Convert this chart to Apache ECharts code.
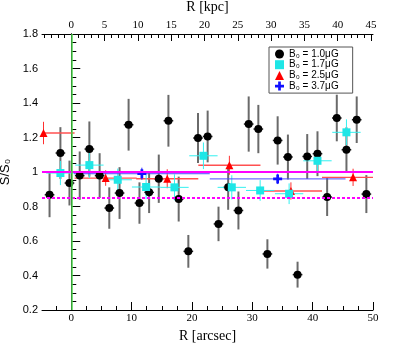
<!DOCTYPE html>
<html>
<head>
<meta charset="utf-8">
<script src="https://cdn.jsdelivr.net/npm/echarts@6/dist/echarts.min.js"></script>
<style>
  html, body { margin: 0; padding: 0; background: #fff; }
  #chart { width: 415px; height: 345px; }
</style>
</head>
<body>
<div id="chart"></div>
<script>
// B0 = 1.0 uG  (x in arcsec, y = S/S0, yErr)
const r10 = [-3.6, -1.8, -0.3, 1.4, 3.0, 4.7, 6.3, 8.0, 9.5, 11.3, 12.9, 14.5, 16.1, 17.8, 19.4, 21.0, 22.6,
  24.4, 26.0, 27.7, 29.4, 31.0, 32.5, 34.2, 35.9, 37.5, 39.1, 40.8, 42.4, 44.0, 45.6, 47.3, 48.9]
const s10 = [0.868, 1.11, 0.936, 0.979, 1.133, 0.979, 0.791, 0.878, 1.274, 0.82, 0.882, 0.961, 1.297, 0.843, 0.54, 1.197, 1.206,
  0.699, 0.911, 0.777, 1.278, 1.249, 0.525, 1.183, 1.087, 0.405, 1.09, 1.106, 0.855, 1.313, 1.129, 1.303, 0.872]
const e10 = [0.13, 0.15, 0.13, 0.14, 0.16, 0.13, 0.12, 0.15, 0.15, 0.12, 0.12, 0.14, 0.15, 0.13, 0.095, 0.145, 0.15,
  0.1, 0.13, 0.11, 0.16, 0.14, 0.085, 0.14, 0.13, 0.075, 0.13, 0.13, 0.11, 0.135, 0.13, 0.135, 0.11]
const xe10 = 0.8

// B0 = 1.7 uG
const r17 = [-1.8, 3.0, 7.7, 12.4, 17.1, 21.9, 26.6, 31.3, 36.1, 40.8, 45.6]
const s17 = [0.994, 1.04, 0.955, 0.913, 0.911, 1.094, 0.911, 0.893, 0.874, 1.065, 1.23]
const e17 = [0.07, 0.075, 0.065, 0.07, 0.075, 0.077, 0.07, 0.06, 0.06, 0.06, 0.075]
const xe17 = 2.35

// B0 = 2.5 uG
const r25 = [-4.6, 5.7, 15.9, 26.2, 36.4, 46.7]
const s25 = [1.226, 0.965, 0.961, 1.039, 0.89, 0.969]
const e25 = [0.065, 0.045, 0.055, 0.055, 0.05, 0.05]
const xe25 = 5.15

// B0 = 3.7 uG
const r37 = [11.7, 34.2]
const s37 = [0.99, 0.96]
const e37 = [0.035, 0.03]
const xe37 = 11.25

const names = ['B₀ = 1.0μG', 'B₀ = 1.7μG', 'B₀ = 2.5μG', 'B₀ = 3.7μG']

// axes
const xMin = -4.85
const xMax = 50
const arcTicks = [0, 10, 20, 30, 40, 50]
const arcMinor = [-2.5, 2.5, 5, 7.5, 12.5, 15, 17.5, 22.5, 25, 27.5, 32.5, 35, 37.5, 42.5, 45, 47.5]
const kpcPerArcsec = 0.906
const kpcTicks = [0, 5, 10, 15, 20, 25, 30, 35, 40, 45]
const kpcMinor = []
for (let k = -4; k <= 45; k++) if (k % 5 !== 0) kpcMinor.push(k)

const refLevel = 1.0
const dashLevel = 0.85
const centerR = 0

function zip(xs, ys, xe, es) {
  return xs.map((x, i) => [x, ys[i], xe, es[i]])
}

function errBars(hColor, vColor, hWidth, vWidth) {
  return function (params, api) {
    const x = api.value(0), y = api.value(1), dx = api.value(2), dy = api.value(3)
    const cs = params.coordSys
    const left = cs.x, right = cs.x + cs.width
    const h1 = api.coord([x - dx, y]), h2 = api.coord([x + dx, y])
    const v1 = api.coord([x, y - dy]), v2 = api.coord([x, y + dy])
    return {
      type: 'group',
      children: [
        { type: 'line', shape: { x1: Math.max(h1[0], left), y1: h1[1], x2: Math.min(h2[0], right), y2: h2[1] },
          style: { stroke: hColor, lineWidth: hWidth } },
        { type: 'line', shape: { x1: v1[0], y1: v1[1], x2: v2[0], y2: v2[1] },
          style: { stroke: vColor, lineWidth: vWidth } }
      ]
    }
  }
}

const serif = 'Liberation Serif'
const sans = 'Liberation Sans'
const cross = 'path://M3.5,0H6.5V3.5H10V6.5H6.5V10H3.5V6.5H0V3.5H3.5Z'

const chart = echarts.init(document.getElementById('chart'), null, { renderer: 'canvas' })

chart.setOption({
  animation: false,
  grid: { left: 42, right: 42, top: 34, bottom: 35, containLabel: false, outerBoundsMode: 'none' },
  legend: {
    data: names,
    orient: 'vertical',
    left: 269,
    top: 47,
    padding: [2, 14, 2, 6],
    itemGap: 0.7,
    itemWidth: 9,
    itemHeight: 9,
    borderColor: '#555',
    borderWidth: 1,
    textStyle: { fontFamily: sans, fontSize: 10, color: '#000' }
  },
  xAxis: [
    {
      type: 'value', position: 'bottom', min: xMin, max: xMax,
      name: 'R [arcsec]', nameLocation: 'middle', nameGap: 17,
      nameTextStyle: { fontFamily: serif, fontSize: 14, color: '#000' },
      axisLine: { show: true, lineStyle: { color: '#000', width: 1 } },
      axisTick: { show: true, inside: true, length: 8, customValues: arcTicks, lineStyle: { color: '#000' } },
      axisLabel: { customValues: arcTicks, margin: 3, fontFamily: serif, fontSize: 11, color: '#000' },
      splitLine: { show: false }
    },
    {
      type: 'value', position: 'bottom', min: xMin, max: xMax,
      axisLine: { show: false },
      axisTick: { show: true, inside: true, length: 4, customValues: arcMinor, lineStyle: { color: '#000' } },
      axisLabel: { show: false },
      splitLine: { show: false }
    },
    {
      type: 'value', position: 'top', min: xMin, max: xMax,
      name: 'R [kpc]', nameLocation: 'middle', nameGap: 20,
      nameTextStyle: { fontFamily: serif, fontSize: 14, color: '#000' },
      axisLine: { show: true, lineStyle: { color: '#000', width: 1 } },
      axisTick: { show: true, inside: true, length: 7, customValues: kpcTicks.map(k => k / kpcPerArcsec), lineStyle: { color: '#000' } },
      axisLabel: {
        customValues: kpcTicks.map(k => k / kpcPerArcsec), margin: 3,
        fontFamily: serif, fontSize: 11, color: '#000',
        formatter: v => String(Math.round(v * kpcPerArcsec))
      },
      splitLine: { show: false }
    },
    {
      type: 'value', position: 'top', min: xMin, max: xMax,
      axisLine: { show: false },
      axisTick: { show: true, inside: true, length: 4, customValues: kpcMinor.map(k => k / kpcPerArcsec), lineStyle: { color: '#000' } },
      axisLabel: { show: false },
      splitLine: { show: false }
    }
  ],
  yAxis: [
    {
      type: 'value', position: 'left', min: 0.2, max: 1.8, interval: 0.2,
      name: 'S/S₀', nameLocation: 'middle', nameGap: 30, nameRotate: 90,
      nameTextStyle: { fontFamily: sans, fontSize: 13, color: '#000' },
      axisLine: { show: true, lineStyle: { color: '#000', width: 1 } },
      axisTick: { show: true, inside: true, length: 9, lineStyle: { color: '#000' } },
      minorTick: { show: true, splitNumber: 4, length: 5, lineStyle: { color: '#000' } },
      axisLabel: { margin: 4, fontFamily: sans, fontSize: 11, color: '#000' },
      splitLine: { show: false },
      minorSplitLine: { show: false }
    },
    {
      type: 'value', position: 'right', min: 0.2, max: 1.8,
      axisLine: { show: true, lineStyle: { color: '#000', width: 1 } },
      axisTick: { show: false },
      axisLabel: { show: false },
      splitLine: { show: false }
    }
  ],
  series: [
    {
      type: 'custom', xAxisIndex: 0, yAxisIndex: 0, z: 1, silent: true,
      encode: { x: 0, y: 1 },
      renderItem: errBars('#222', '#6a6a6a', 1.5, 2),
      data: zip(r10, s10, xe10, e10)
    },
    {
      type: 'custom', xAxisIndex: 0, yAxisIndex: 0, z: 1, silent: true,
      encode: { x: 0, y: 1 },
      renderItem: errBars('#ff5050', '#ff3030', 1.3, 1),
      data: zip(r25, s25, xe25, e25)
    },
    {
      type: 'custom', xAxisIndex: 0, yAxisIndex: 0, z: 1, silent: true,
      encode: { x: 0, y: 1 },
      renderItem: errBars('#33f0f0', '#33f0f0', 1, 1),
      data: zip(r17, s17, xe17, e17)
    },
    {
      type: 'custom', xAxisIndex: 0, yAxisIndex: 0, z: 1, silent: true,
      encode: { x: 0, y: 1 },
      renderItem: errBars('#4a4aff', '#2a2aff', 1, 1),
      data: zip(r37, s37, xe37, e37)
    },
    {
      type: 'line', xAxisIndex: 0, yAxisIndex: 0, z: 2, data: [],
      markLine: {
        silent: true, symbol: 'none', label: { show: false },
        data: [
          { yAxis: refLevel, lineStyle: { color: '#ff00ff', width: 2, type: 'solid' } },
          { yAxis: dashLevel, lineStyle: { color: '#ff00ff', width: 2, type: [3, 2] } },
          { xAxis: centerR, lineStyle: { color: '#4cd44c', width: 1.5, type: 'solid' } }
        ]
      }
    },
    {
      name: names[0], type: 'scatter', xAxisIndex: 0, yAxisIndex: 0, z: 3,
      symbol: 'circle', symbolSize: 8,
      itemStyle: { color: '#000', opacity: 1 },
      data: r10.map((x, i) => [x, s10[i]])
    },
    {
      name: names[2], type: 'scatter', xAxisIndex: 0, yAxisIndex: 0, z: 3,
      symbol: 'triangle', symbolSize: 8,
      itemStyle: { color: '#ff0000', opacity: 1 },
      data: r25.map((x, i) => [x, s25[i]])
    },
    {
      name: names[1], type: 'scatter', xAxisIndex: 0, yAxisIndex: 0, z: 3,
      symbol: 'rect', symbolSize: 8,
      itemStyle: { color: '#1ee6e6', opacity: 1 },
      data: r17.map((x, i) => [x, s17[i]])
    },
    {
      name: names[3], type: 'scatter', xAxisIndex: 0, yAxisIndex: 0, z: 3,
      symbol: cross, symbolSize: 9,
      itemStyle: { color: '#1010ff', opacity: 1 },
      data: r37.map((x, i) => [x, s37[i]])
    }
  ]
})
</script>
</body>
</html>
